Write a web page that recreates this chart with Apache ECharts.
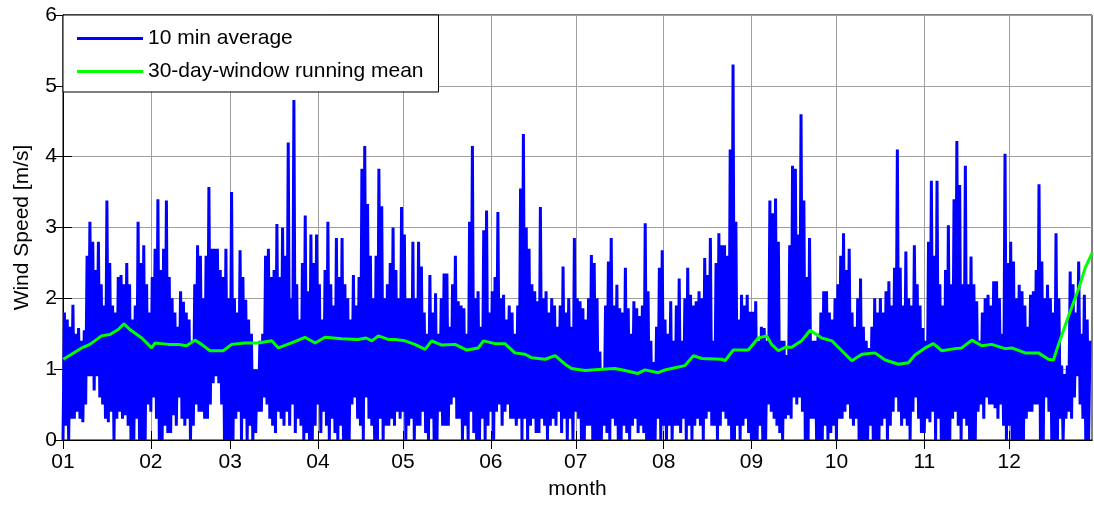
<!DOCTYPE html>
<html>
<head>
<meta charset="utf-8">
<script src="https://cdn.jsdelivr.net/npm/echarts@6/dist/echarts.min.js"></script>
<style>
html,body{margin:0;padding:0;background:#fff;}
#chart{width:1094px;height:505px;}
</style>
</head>
<body>
<div id="chart"></div>
<script>
// ---- data ----
const monthStartDays = [0, 31, 59, 90, 120, 151, 181, 212, 243, 273, 304, 334];
const monthLabels = ['01','02','03','04','05','06','07','08','09','10','11','12'];
const yTicks = [0, 1, 2, 3, 4, 5, 6];

// daily maximum of the 10-min averages (m/s), day 0..362
const dailyMax = [
1.8,1.7,1.6,1.91,1.5,1.58,1.4,1.55,2.6,3.08,
2.8,2.4,2.8,2.2,1.9,3.38,2.5,1.9,1.8,2.3,
2.33,2.2,2.5,2.2,1.7,1.9,3.08,2.5,2.75,2.2,
1.8,2.3,2.7,3.4,2.4,2.7,3.38,2.3,2.0,1.8,
1.6,2.1,1.95,1.8,1.7,1.4,2.2,2.75,2.6,2.0,
2.6,3.57,2.7,2.7,2.7,2.4,2.3,2.7,2.0,3.5,
2.0,1.8,2.68,2.3,1.98,1.7,1.5,1.0,1.0,1.4,
1.5,2.6,2.7,2.3,2.4,3.05,2.3,3.0,2.6,4.2,
2.0,4.8,2.2,1.7,2.5,3.17,2.1,2.9,2.5,2.9,
2.2,1.7,2.4,3.08,2.2,1.9,2.85,2.3,2.85,2.2,
2.0,1.7,2.33,1.9,2.3,3.83,4.15,3.33,2.6,2.0,
2.6,3.83,3.3,2.0,2.2,2.5,3.0,2.4,2.0,3.29,
2.9,2.0,2.0,2.8,2.0,2.8,2.45,1.8,1.5,2.33,
1.8,2.07,1.5,2.0,2.35,2.35,1.6,2.2,2.6,1.96,
1.9,1.86,1.5,3.08,4.15,2.0,2.1,1.6,2.96,3.24,
1.8,2.1,2.3,3.22,2.0,2.05,1.7,1.9,1.8,1.5,
1.9,3.55,4.32,3.0,2.7,2.2,2.1,1.96,3.29,2.0,
2.1,1.8,2.0,1.9,1.6,1.9,2.45,1.8,2.0,1.6,
2.85,2.0,1.96,1.86,1.7,2.0,2.61,2.5,2.0,1.25,
1.0,1.9,2.52,2.85,1.9,2.19,1.86,1.8,2.43,1.86,
1.5,1.96,1.86,1.75,1.9,3.06,2.1,1.4,1.1,1.6,
2.43,2.68,1.7,1.5,1.96,1.4,1.9,2.28,1.4,2.0,
2.43,2.05,1.9,1.96,2.1,2.0,2.57,2.33,2.85,1.4,
2.5,2.92,2.75,2.75,2.6,4.1,5.3,3.08,1.7,2.05,
1.9,2.05,1.81,1.81,1.96,1.4,1.6,1.58,1.4,3.38,
3.2,3.41,2.8,1.4,1.4,1.2,2.75,3.87,3.83,2.9,
4.6,3.38,2.3,2.85,1.4,1.4,1.5,1.8,2.1,2.1,
1.8,1.7,2.0,2.2,2.6,2.92,2.4,2.7,1.8,1.6,
2.0,2.28,1.6,1.4,1.3,1.6,2.0,1.8,2.0,1.8,
2.1,2.24,1.9,2.43,4.1,2.43,1.9,2.66,2.0,1.9,
2.75,2.2,1.9,1.58,1.4,2.8,3.66,2.6,3.66,2.2,
1.9,2.4,3.03,2.2,3.4,4.22,3.6,2.2,3.87,2.2,
2.59,2.2,1.96,1.4,1.8,2.0,2.05,1.9,2.24,2.24,
2.0,1.5,4.04,2.5,2.8,2.52,2.0,2.19,2.1,1.9,
1.6,2.05,2.1,2.4,3.61,2.52,2.0,2.19,2.0,1.8,
2.92,2.0,1.05,0.93,1.05,2.38,2.2,1.8,2.52,1.5,
2.05,1.7,1.4
];

// daily minimum of the 10-min averages (m/s), day 0..362
const dailyMin = [
0.0,0.2,0.0,0.3,0.3,0.4,0.3,0.25,0.5,0.9,
0.9,0.7,0.9,0.6,0.5,0.3,0.25,0.4,0.0,0.3,
0.4,0.3,0.35,0.2,0.0,0.0,0.3,0.0,0.0,0.0,
0.5,0.4,0.6,0.3,0.0,0.0,0.2,0.1,0.1,0.35,
0.2,0.6,0.3,0.2,0.3,0.0,0.2,0.5,0.4,0.4,
0.3,0.3,0.5,0.8,0.9,0.8,0.5,0.0,0.0,0.0,
0.0,0.3,0.4,0.0,0.3,0.0,0.2,0.0,0.1,0.4,
0.4,0.6,0.5,0.3,0.2,0.1,0.4,0.3,0.2,0.4,
0.2,0.5,0.1,0.3,0.2,0.0,0.1,0.0,0.0,0.2,
0.5,0.1,0.4,0.2,0.0,0.3,0.1,0.0,0.2,0.0,
0.0,0.0,0.5,0.6,0.3,0.2,0.0,0.6,0.3,0.2,
0.0,0.0,0.3,0.0,0.2,0.2,0.3,0.2,0.4,0.3,
0.4,0.0,0.2,0.3,0.0,0.2,0.2,0.4,0.1,0.0,
0.3,0.0,0.0,0.4,0.2,0.2,0.2,0.5,0.6,0.3,
0.3,0.0,0.2,0.0,0.4,0.1,0.0,0.0,0.3,0.0,
0.2,0.4,0.0,0.4,0.5,0.2,0.4,0.5,0.3,0.3,
0.2,0.3,0.0,0.3,0.0,0.2,0.3,0.1,0.1,0.3,
0.2,0.0,0.2,0.3,0.2,0.4,0.1,0.3,0.0,0.3,
0.0,0.4,0.3,0.0,0.0,0.2,0.2,0.0,0.0,0.0,
0.0,0.2,0.1,0.0,0.3,0.2,0.0,0.0,0.2,0.1,
0.0,0.2,0.3,0.1,0.2,0.1,0.0,0.0,0.0,0.0,
0.3,0.0,0.2,0.0,0.2,0.0,0.2,0.2,0.1,0.3,
0.0,0.2,0.0,0.2,0.3,0.2,0.0,0.3,0.4,0.2,
0.2,0.0,0.2,0.4,0.3,0.2,0.0,0.0,0.2,0.0,
0.2,0.3,0.1,0.0,0.0,0.0,0.2,0.0,0.0,0.5,
0.4,0.3,0.2,0.1,0.0,0.3,0.35,0.3,0.6,0.5,
0.6,0.4,0.0,0.0,0.3,0.3,0.0,0.0,0.0,0.2,
0.0,0.1,0.2,0.0,0.3,0.3,0.4,0.5,0.3,0.2,
0.3,0.0,0.0,0.0,0.0,0.2,0.0,0.0,0.0,0.2,
0.3,0.0,0.2,0.4,0.6,0.4,0.2,0.3,0.2,0.0,
0.4,0.6,0.3,0.1,0.1,0.3,0.25,0.4,0.0,0.3,
0.0,0.0,0.0,0.0,0.3,0.4,0.2,0.0,0.3,0.2,
0.0,0.0,0.0,0.4,0.5,0.3,0.6,0.5,0.5,0.45,
0.3,0.5,0.2,0.0,0.2,0.0,0.0,0.0,0.0,0.0,
0.3,0.4,0.4,0.5,0.5,0.0,0.0,0.6,0.4,0.0,
0.0,0.0,0.3,0.0,0.3,0.4,0.3,0.6,0.9,0.5,
0.3,0.0,0.0
];

// 30-day-window running mean: day positions and values
const meanDays = [0.1,3,6.6,9.5,13.6,16.6,19.5,21.5,23.6,27.8,31.3,32.5,37.2,40.7,43.6,46.6,48.9,51.9,56.6,59.5,
64.2,68.9,73.7,76,80.7,85.4,89,92.5,98.4,104.2,107,109,111.3,114.8,117.2,120.7,124.2,127.8,130.1,133.7,
138.4,142.5,146.6,148.4,152.5,156,159.5,163.1,165.5,170.2,173.7,177.2,179.5,184.3,190.1,194.8,198.4,202.9,205.4,210.1,
212.5,214.8,219.5,222.5,225.5,232.5,233.7,236.6,241.9,245.4,248.4,250.1,252.5,254.9,257.2,260.7,263.7,267.8,271.4,274.9,
278.4,282,286.6,290.2,294.9,298.4,300.7,304.3,307.2,310.2,314.9,317.2,320.8,324.3,327.8,332.5,334.9,339.6,344.3,347.8,
349.6,351.4,354.9,358.5,360.8,363.2];
const meanValues = [1.14,1.21,1.3,1.35,1.47,1.49,1.56,1.64,1.56,1.44,1.3,1.37,1.35,1.35,1.33,1.41,1.35,1.26,1.26,1.35,
1.37,1.37,1.4,1.3,1.37,1.45,1.37,1.45,1.43,1.42,1.44,1.4,1.47,1.42,1.42,1.4,1.35,1.28,1.4,1.34,
1.35,1.27,1.3,1.4,1.36,1.36,1.23,1.21,1.16,1.14,1.19,1.07,1.01,0.98,1.0,1.01,0.98,0.94,0.99,0.95,
0.99,1.01,1.05,1.19,1.15,1.14,1.12,1.27,1.27,1.44,1.47,1.35,1.26,1.31,1.31,1.4,1.55,1.44,1.4,1.26,
1.12,1.21,1.23,1.13,1.07,1.09,1.2,1.3,1.36,1.26,1.29,1.3,1.41,1.33,1.35,1.29,1.3,1.23,1.23,1.14,
1.13,1.35,1.75,2.14,2.43,2.64];

// ---- build series data ----
const rawData = [];
for (let d = 0; d < dailyMax.length; d++) {
  rawData.push([d, dailyMin[d]]);
  rawData.push([d + 0.5, dailyMax[d]]);
}
const meanData = meanDays.map((d, i) => [d, meanValues[i]]);

const FONT = "'Liberation Sans', Arial, sans-serif";
const chart = echarts.init(document.getElementById('chart'), null, {renderer: 'canvas'});

const xCommon = {
  type: 'value', min: 0, max: 363.2,
  axisLine: {show: true, lineStyle: {color: '#000', width: 1}},
  axisTick: {show: true, inside: true, length: 9, customValues: monthStartDays, lineStyle: {color: '#000'}},
};
const yCommon = {
  type: 'value', min: 0, max: 6, interval: 1,
  axisLine: {show: true, lineStyle: {color: '#000', width: 1}},
  axisTick: {show: true, inside: true, length: 9, lineStyle: {color: '#000'}},
};

chart.setOption({
  animation: false,
  backgroundColor: '#fff',
  grid: {left: 63, right: 2, top: 15, bottom: 62, show: true, borderColor: '#000', borderWidth: 1, containLabel: false},
  legend: {
    left: 63, top: 15, orient: 'vertical',
    backgroundColor: '#fff', borderColor: '#000', borderWidth: 1,
    padding: [13, 15, 10, 14],
    itemGap: 12, itemWidth: 66, itemHeight: 3, icon: 'rect',
    selectedMode: false,
    textStyle: {fontFamily: FONT, fontSize: 21, color: '#000'},
    data: ['10 min average', '30-day-window running mean']
  },
  xAxis: [
    Object.assign({}, xCommon, {
      position: 'bottom',
      name: 'month', nameLocation: 'middle', nameGap: 39,
      nameTextStyle: {fontFamily: FONT, fontSize: 21, color: '#000'},
      axisLabel: {show: true, customValues: monthStartDays, margin: 12, fontFamily: FONT, fontSize: 21, color: '#000',
        formatter: v => monthLabels[monthStartDays.indexOf(v)]},
      splitLine: {show: true, lineStyle: {color: '#a0a0a0', width: 1}}
    }),
    Object.assign({}, xCommon, {
      position: 'top',
      axisLabel: {show: false},
      splitLine: {show: false}
    })
  ],
  yAxis: [
    Object.assign({}, yCommon, {
      position: 'left',
      name: 'Wind Speed [m/s]', nameLocation: 'middle', nameGap: 30,
      nameTextStyle: {fontFamily: FONT, fontSize: 21, color: '#000'},
      axisLabel: {show: true, margin: 6, fontFamily: FONT, fontSize: 21, color: '#000',
        customValues: yTicks},
      splitLine: {show: true, lineStyle: {color: '#a0a0a0', width: 1}}
    }),
    Object.assign({}, yCommon, {
      position: 'right',
      axisLabel: {show: false},
      splitLine: {show: false}
    })
  ],
  series: [
    {
      name: '10 min average', type: 'line', xAxisIndex: 0, yAxisIndex: 0,
      data: rawData, symbol: 'none', showSymbol: false, silent: true,
      lineStyle: {color: '#0000ff', width: 3}, itemStyle: {color: '#0000ff'},
      z: 2
    },
    {
      name: '30-day-window running mean', type: 'line', xAxisIndex: 0, yAxisIndex: 0,
      data: meanData, symbol: 'none', showSymbol: false, silent: true,
      lineStyle: {color: '#00ff00', width: 3}, itemStyle: {color: '#00ff00'},
      z: 3
    }
  ]
});
</script>
</body>
</html>
